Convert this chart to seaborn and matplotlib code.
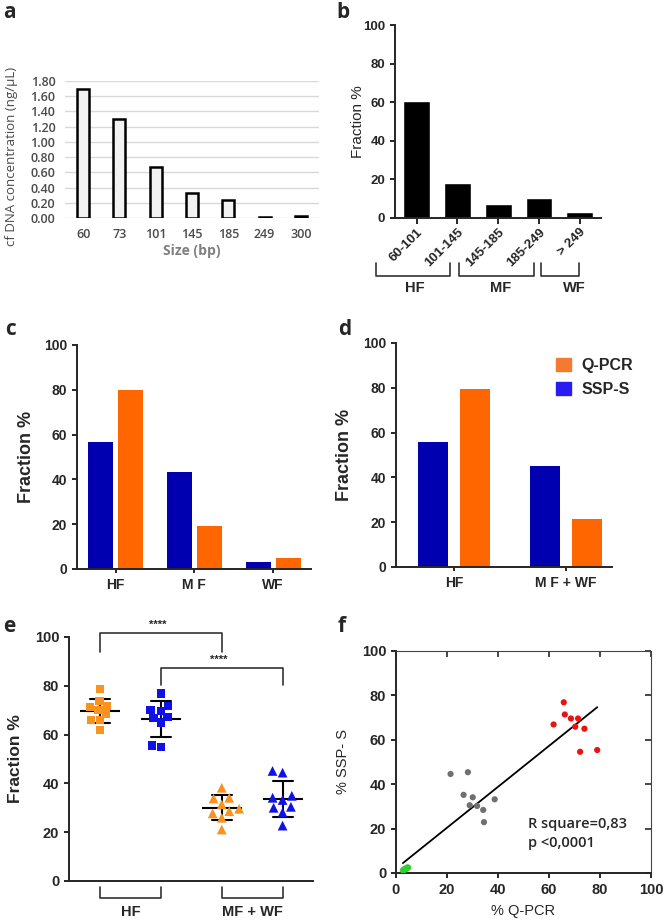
import numpy as np
import pandas as pd
import matplotlib.pyplot as plt
from matplotlib.patches import Patch
import seaborn as sns

# ---- data ----
# a: cf DNA concentration by amplicon size
sizes_a = ['60', '73', '101', '145', '185', '249', '300']
conc_a = [1.69, 1.30, 0.67, 0.33, 0.23, 0.01, 0.02]

# b: fraction by size range
bins_b = ['60-101', '101-145', '145-185', '185-249', '> 249']
frac_b = [60.5, 18.0, 7.2, 10.3, 3.3]

# c: HF / MF / WF
groups_c = ['HF', 'M F', 'WF']
ssps_c = [56.5, 43.5, 3.2]
qpcr_c = [80.0, 19.0, 4.7]

# d: HF / MF + WF
groups_d = ['HF', 'M F + WF']
ssps_d = [56.0, 45.0]
qpcr_d = [79.3, 21.6]

# e: individual samples
hf_qpcr = [78.8, 71.8, 73.7, 70.2, 71.3, 68.4, 66.1, 65.9, 61.8]
hf_ssps = [76.9, 71.6, 70.1, 69.8, 66.9, 67.2, 65.0, 54.8, 55.5]
mw_qpcr = [38.2, 34.1, 33.8, 31.4, 29.6, 28.6, 27.7, 25.9, 21.1]
mw_ssps = [45.1, 44.4, 33.2, 34.1, 34.9, 30.0, 30.4, 28.1, 22.7]

# f: correlation Q-PCR vs SSP-S
red_x = [65.8, 66.2, 68.6, 71.4, 70.3, 73.9, 61.8, 72.2, 78.9]
red_y = [76.9, 71.4, 69.6, 69.6, 65.9, 65.0, 66.9, 54.6, 55.4]
gray_x = [21.4, 28.2, 26.5, 30.1, 28.9, 31.8, 34.2, 38.7, 34.5]
gray_y = [44.6, 45.4, 35.2, 34.1, 30.5, 30.2, 28.4, 33.2, 22.9]
green_x = [2.7, 3.1, 3.3, 3.6, 3.8, 4.0, 4.3, 4.5, 4.8]
green_y = [1.2, 1.6, 1.4, 1.9, 2.0, 1.8, 2.3, 2.5, 2.4]

BLUE = '#0000b0'
ORANGE = '#ff6600'

sns.set_style('ticks')
plt.rcParams['font.family'] = ['Liberation Sans', 'DejaVu Sans']
plt.rcParams['axes.linewidth'] = 1.4
plt.rcParams['xtick.major.width'] = 1.4
plt.rcParams['ytick.major.width'] = 1.4

W, H = 666, 923
fig = plt.figure(figsize=(W / 100, H / 100), dpi=100)


def box(l, t, r, b):
    return [l / W, 1 - b / H, (r - l) / W, (b - t) / H]


def bold_ticks(ax, size):
    ax.tick_params(labelsize=size)
    for t in ax.get_xticklabels() + ax.get_yticklabels():
        t.set_fontweight('bold')


def panel_letter(x, y, s):
    fig.text(x / W, 1 - y / H, s, fontsize=15, fontweight='bold',
             family=['Open Sans', 'DejaVu Sans'], va='baseline')


# ---- a ----
ax = fig.add_axes(box(65, 81, 319, 218))
sns.barplot(x=sizes_a, y=conc_a, color='#f2f2f2', edgecolor='black',
            linewidth=1.8, width=0.33, saturation=1, ax=ax, zorder=3)
ax.set_ylim(0, 1.8)
ax.set_xlim(-0.5, 6.5)
ax.set_yticks(np.arange(0, 1.81, 0.2))
ax.set_yticklabels([f'{v:.2f}' for v in np.arange(0, 1.81, 0.2)])
ax.grid(axis='y', color='#d9d9d9', linewidth=1)
for s in ax.spines.values():
    s.set_visible(False)
ax.tick_params(length=0, labelsize=9, labelcolor='#4a4a4a', pad=7)
for t in ax.get_xticklabels() + ax.get_yticklabels():
    t.set_family(['Open Sans', 'DejaVu Sans'])
    t.set_fontweight('semibold')
ax.set_xlabel('Size (bp)', fontsize=10, fontweight='bold', color='#7f7f7f',
              family=['Open Sans', 'DejaVu Sans'], labelpad=2)
ax.set_ylabel('cf DNA concentration (ng/µL)', fontsize=9.5, color='#4a4a4a',
              family=['Open Sans', 'DejaVu Sans'])
ax.yaxis.set_label_coords(-0.185, 0.45)
panel_letter(3, 18, 'a')

# ---- b ----
ax = fig.add_axes(box(395, 25, 601, 218))
sns.barplot(x=bins_b, y=frac_b, color='black', width=0.66, saturation=1, ax=ax)
ax.set_ylim(0, 100)
ax.set_xlim(-0.53, 4.52)
ax.set_yticks(range(0, 101, 20))
sns.despine(ax=ax)
bold_ticks(ax, 9.5)
ax.tick_params(axis='x', length=4, pad=2)
for t in ax.get_xticklabels():
    t.set_rotation(45)
    t.set_ha('right')
    t.set_rotation_mode('anchor')
ax.set_ylabel('Fraction %', fontsize=11)
ax.yaxis.set_label_coords(-0.146, 0.5)
trans = ax.get_xaxis_transform()
for x0, x1 in [(-1.0, 0.81), (1.05, 2.87), (3.04, 3.97)]:
    ax.plot([x0, x0, x1, x1], [-0.233, -0.30, -0.30, -0.233], color='#333333',
            lw=1.2, transform=trans, clip_on=False)
for x, lab in [(-0.05, 'HF'), (2.06, 'MF'), (3.87, 'WF')]:
    ax.text(x, -0.363, lab, transform=trans, ha='center', va='center',
            fontsize=10.5, fontweight='bold')
panel_letter(336, 18, 'b')

# ---- c ----
df_c = pd.DataFrame({'group': groups_c * 2,
                     'value': ssps_c + qpcr_c,
                     'method': ['SSP-S'] * 3 + ['Q-PCR'] * 3})
ax = fig.add_axes(box(77, 345, 311, 569))
sns.barplot(data=df_c, x='group', y='value', hue='method',
            hue_order=['SSP-S', 'Q-PCR'], palette=[BLUE, ORANGE],
            width=0.76, gap=0.17, linewidth=0, saturation=1, legend=False,
            ax=ax)
ax.set_ylim(0, 100)
ax.set_xlim(-0.49, 2.48)
ax.set_yticks(range(0, 101, 20))
sns.despine(ax=ax)
bold_ticks(ax, 10)
ax.tick_params(axis='x', length=3)
ax.set_xlabel('')
ax.set_ylabel('Fraction %', fontsize=13, fontweight='bold')
ax.yaxis.set_label_coords(-0.18, 0.5)
panel_letter(5, 335, 'c')

# ---- d ----
df_d = pd.DataFrame({'group': groups_d * 2,
                     'value': ssps_d + qpcr_d,
                     'method': ['SSP-S'] * 2 + ['Q-PCR'] * 2})
ax = fig.add_axes(box(396, 343, 612, 567))
sns.barplot(data=df_d, x='group', y='value', hue='method',
            hue_order=['SSP-S', 'Q-PCR'], palette=[BLUE, ORANGE],
            width=0.76, gap=0.295, linewidth=0, saturation=1, legend=False,
            ax=ax)
ax.set_ylim(0, 100)
ax.set_xlim(-0.52, 1.41)
ax.set_yticks(range(0, 101, 20))
sns.despine(ax=ax)
bold_ticks(ax, 10)
ax.tick_params(axis='x', length=3)
ax.set_xlabel('')
ax.set_ylabel('Fraction %', fontsize=13, fontweight='bold')
ax.yaxis.set_label_coords(-0.2, 0.5)
handles = [Patch(color='#f47a30'), Patch(color='#2a1cf0')]
ax.legend(handles, ['Q-PCR', 'SSP-S'], loc='upper left',
          bbox_to_anchor=(0.74, 0.935), frameon=False, borderpad=0,
          borderaxespad=0, handlelength=0.95, handleheight=0.95,
          handletextpad=0.65, labelspacing=0.55,
          prop={'size': 11.5, 'weight': 'bold'})
panel_letter(338, 335, 'd')

# ---- e ----
cats_e = ['HF Q-PCR', 'HF SSP-S', 'MW Q-PCR', 'MW SSP-S']
df_e = pd.DataFrame({
    'cat': [cats_e[0]] * 9 + [cats_e[1]] * 9 + [cats_e[2]] * 9 + [cats_e[3]] * 9,
    'value': hf_qpcr + hf_ssps + mw_qpcr + mw_ssps,
    'method': (['Q-PCR'] * 9 + ['SSP-S'] * 9) * 2,
})
ax = fig.add_axes(box(69, 637, 313, 881))
pal_e = {'Q-PCR': '#f7931e', 'SSP-S': '#1010e8'}
sns.swarmplot(data=df_e[df_e['cat'].str.startswith('HF')], x='cat', y='value',
              order=cats_e, hue='method', palette=pal_e, marker='s', size=6,
              linewidth=0, legend=False, ax=ax)
sns.swarmplot(data=df_e[df_e['cat'].str.startswith('MW')], x='cat', y='value',
              order=cats_e, hue='method', palette=pal_e, marker='^', size=7,
              linewidth=0, legend=False, ax=ax)
sns.pointplot(data=df_e, x='cat', y='value', order=cats_e, errorbar='sd',
              capsize=0.33, color='black', markers='_', linestyles='none',
              markersize=29, markeredgewidth=1.5, err_kws={'linewidth': 1.5},
              ax=ax)
ax.set_ylim(0, 100)
ax.set_xlim(-0.51, 3.5)
ax.set_yticks(range(0, 101, 20))
sns.despine(ax=ax)
ax.set_xticks([])
bold_ticks(ax, 10.5)
ax.set_xlabel('')
ax.set_ylabel('Fraction %', fontsize=12.5, fontweight='bold')
ax.yaxis.set_label_coords(-0.19, 0.5)
# significance brackets
for x0, x1, ytop, ylow in [(0, 2, 101.6, 93.8), (1, 3, 87.3, 80.3)]:
    ax.plot([x0, x0, x1, x1], [ylow, ytop, ytop, ylow], color='#333333', lw=1.2,
            clip_on=False)
    ax.text((x0 + x1) / 2 - 0.05, ytop + 1.2, '****', ha='center', va='bottom',
            fontsize=8, fontweight='bold', clip_on=False)
trans = ax.get_xaxis_transform()
for x0, x1 in [(0, 1), (2, 3)]:
    ax.plot([x0, x0, x1, x1], [-0.025, -0.07, -0.07, -0.025], color='#333333',
            lw=1.2, transform=trans, clip_on=False)
for x, lab in [(0.5, 'HF'), (2.5, 'MF + WF')]:
    ax.text(x, -0.125, lab, transform=trans, ha='center', va='center',
            fontsize=10.5, fontweight='bold')
panel_letter(3, 632, 'e')

# ---- f ----
df_f = pd.DataFrame({
    'qpcr': red_x + gray_x + green_x,
    'ssps': red_y + gray_y + green_y,
    'grp': ['HF'] * 9 + ['MF'] * 9 + ['WF'] * 9,
})
ax = fig.add_axes(box(396, 651, 651, 873))
sns.regplot(data=df_f, x='qpcr', y='ssps', scatter=False, ci=None,
            color='black', line_kws={'linewidth': 1.3}, ax=ax)
sns.scatterplot(data=df_f, x='qpcr', y='ssps', hue='grp',
                palette=['#ee1111', '#707070', '#33cc33'], s=20, linewidth=0,
                legend=False, ax=ax, zorder=3)
ax.set_xlim(0, 100)
ax.set_ylim(0, 100)
ax.set_xticks(range(0, 101, 20))
ax.set_yticks(range(0, 101, 20))
bold_ticks(ax, 10.5)
for s in ['top', 'right']:
    ax.spines[s].set_linewidth(0.8)
    ax.spines[s].set_color('#444444')
sec_y = ax.secondary_yaxis('right')
sec_y.set_yticks(range(0, 101, 20))
sec_y.tick_params(direction='in', length=4, labelright=False, width=1.2)
sec_y.spines['right'].set_visible(False)
sec_x = ax.secondary_xaxis('top')
sec_x.set_xticks(range(0, 101, 20))
sec_x.tick_params(direction='in', length=4, labeltop=False, width=1.2)
sec_x.spines['top'].set_visible(False)
ax.set_xlabel('% Q-PCR', fontsize=10.5)
ax.set_ylabel('% SSP- S', fontsize=10.5)
ax.xaxis.set_label_coords(0.5, -0.14)
ax.yaxis.set_label_coords(-0.18, 0.5)
ax.text(51.8, 22, 'R square=0,83', fontsize=10.5, fontweight='semibold',
        family=['Open Sans', 'DejaVu Sans'], va='center')
ax.text(51.8, 13.5, 'p <0,0001', fontsize=10.5, fontweight='semibold',
        family=['Open Sans', 'DejaVu Sans'], va='center')
panel_letter(338, 632, 'f')

fig.savefig('out.png', dpi=100)
plt.close(fig)
